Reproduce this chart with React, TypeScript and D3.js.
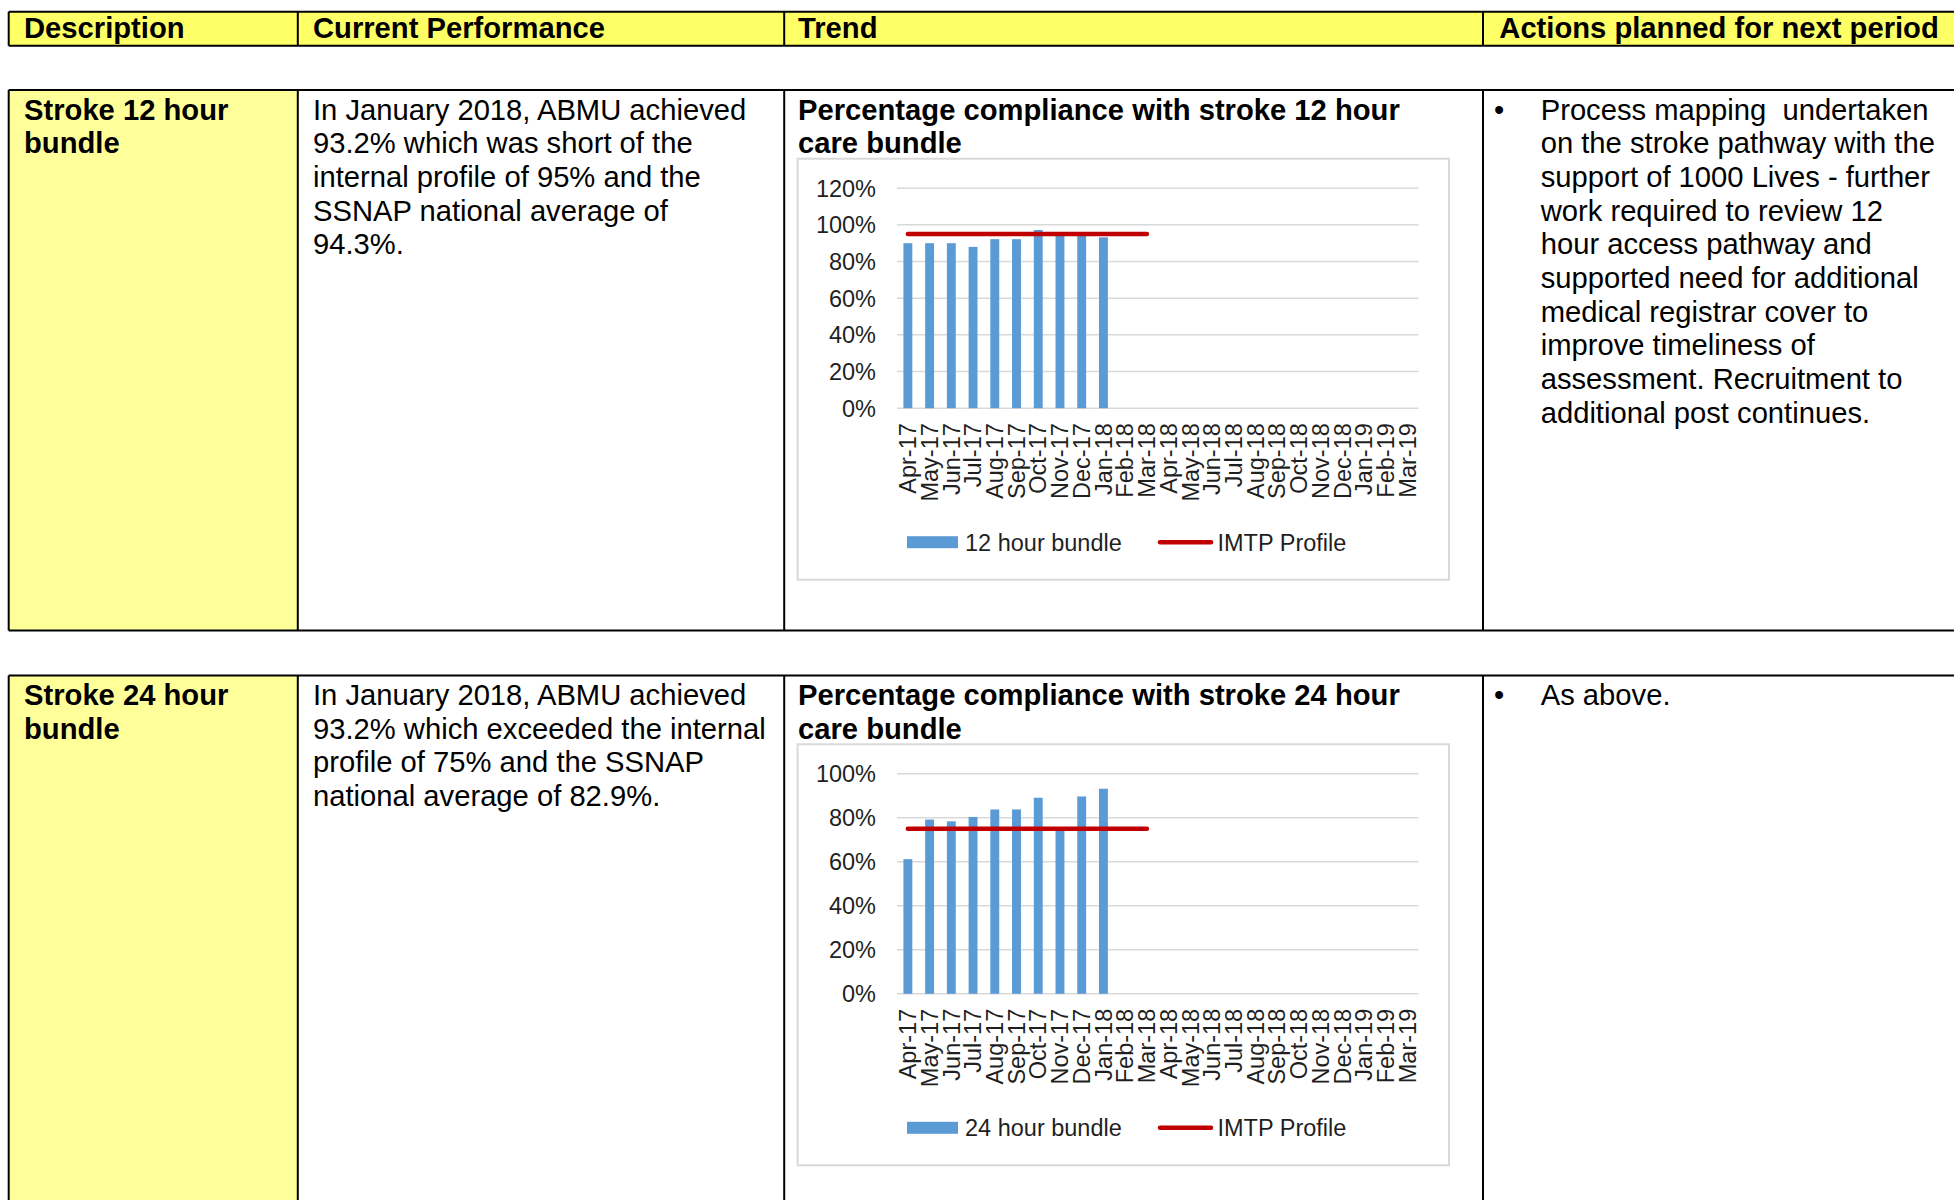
import React from "react";
import * as d3 from "d3";

const months = [
  "Apr-17", "May-17", "Jun-17", "Jul-17", "Aug-17", "Sep-17", "Oct-17", "Nov-17",
  "Dec-17", "Jan-18", "Feb-18", "Mar-18", "Apr-18", "May-18", "Jun-18", "Jul-18",
  "Aug-18", "Sep-18", "Oct-18", "Nov-18", "Dec-18", "Jan-19", "Feb-19", "Mar-19",
];
const bundle12 = [90, 90, 90, 88, 92.2, 92.2, 97.2, 95, 94.3, 93.2];
const bundle24 = [61.2, 79.2, 78.4, 80.4, 83.8, 83.8, 89.1, 74, 89.7, 93.2];
const profile12 = [95, 95, 95, 95, 95, 95, 95, 95, 95, 95, 95, 95];
const profile24 = [75, 75, 75, 75, 75, 75, 75, 75, 75, 75, 75, 75];
const ticks12 = [0, 20, 40, 60, 80, 100, 120];
const ticks24 = [0, 20, 40, 60, 80, 100];

const headers = ["Description", "Current Performance", "Trend", "Actions planned for next period"];
const desc1 = ["Stroke 12 hour", "bundle"];
const desc2 = ["Stroke 24 hour", "bundle"];
const perf1 = [
  "In January 2018, ABMU achieved",
  "93.2% which was short of the",
  "internal profile of 95% and the",
  "SSNAP national average of",
  "94.3%.",
];
const perf2 = [
  "In January 2018, ABMU achieved",
  "93.2% which exceeded the internal",
  "profile of 75% and the SSNAP",
  "national average of 82.9%.",
];
const title1 = ["Percentage compliance with stroke 12 hour", "care bundle"];
const title2 = ["Percentage compliance with stroke 24 hour", "care bundle"];
const actions1 = [
  "Process mapping  undertaken",
  "on the stroke pathway with the",
  "support of 1000 Lives - further",
  "work required to review 12",
  "hour access pathway and",
  "supported need for additional",
  "medical registrar cover to",
  "improve timeliness of",
  "assessment. Recruitment to",
  "additional post continues.",
];
const actions2 = ["As above."];

const FONT = "'Liberation Sans', Arial, Helvetica, sans-serif";
const FS = 29.2;
const LH = 33.7;

const COL = [8.7, 297.8, 784.2, 1483];
const BAR = "#5B9BD5";
const RED = "#C00000";
const AXTXT = "#1F1F1F";

function Lines({ x, y, lines, bold = false }: { x: number; y: number; lines: string[]; bold?: boolean }) {
  return (
    <g>
      {lines.map((t, i) => (
        <text
          key={i}
          x={x}
          y={y + i * LH}
          fontFamily={FONT}
          fontSize={FS}
          fontWeight={bold ? "bold" : "normal"}
          fill="#000"
          style={{ whiteSpace: "pre" }}
        >
          {t}
        </text>
      ))}
    </g>
  );
}

function Chart({
  top,
  values,
  profile,
  ticks,
  ymax,
  label,
}: {
  top: number;
  values: number[];
  profile: number[];
  ticks: number[];
  ymax: number;
  label: string;
}) {
  const boxL = 797.6;
  const boxR = 1449;
  const boxT = top;
  const boxB = top + 421;
  const plotL = 897;
  const plotR = 1418.5;
  const plotT = top + 29.5;
  const plotB = top + 249.5;
  const x = d3.scaleBand<string>().domain(months).range([plotL, plotR]).paddingInner(0.59).paddingOuter(0.295);
  const y = d3.scaleLinear().domain([0, ymax]).range([plotB, plotT]);
  const cx = (m: string) => (x(m) as number) + x.bandwidth() / 2;
  const line = d3
    .line<number>()
    .x((_, i) => cx(months[i]))
    .y((d) => y(d));
  const legY = top + 383.5;
  const axFS = 23.5;
  return (
    <g>
      <rect x={boxL} y={boxT} width={boxR - boxL} height={boxB - boxT} fill="#fff" stroke="#D9D9D9" strokeWidth={2} />
      {ticks.map((t) => (
        <g key={t}>
          <line x1={plotL} x2={plotR} y1={y(t)} y2={y(t)} stroke="#D9D9D9" strokeWidth={1.5} />
          <text
            x={876}
            y={y(t)}
            dy="0.36em"
            textAnchor="end"
            fontFamily={FONT}
            fontSize={axFS}
            fill={AXTXT}
          >
            {t}%
          </text>
        </g>
      ))}
      {values.map((v, i) => (
        <rect key={i} x={x(months[i])} y={y(v)} width={x.bandwidth()} height={y(0) - y(v)} fill={BAR} />
      ))}
      <path d={line(profile) || ""} fill="none" stroke={RED} strokeWidth={4.5} strokeLinecap="round" />
      {months.map((m) => (
        <text
          key={m}
          transform={`translate(${cx(m)},${plotB + 15}) rotate(-90)`}
          dy="0.35em"
          textAnchor="end"
          fontFamily={FONT}
          fontSize={axFS}
          fill={AXTXT}
        >
          {m}
        </text>
      ))}
      <rect x={907} y={legY - 6} width={51} height={12} fill={BAR} />
      <text x={965} y={legY} dy="0.36em" fontFamily={FONT} fontSize={axFS} fill={AXTXT}>
        {label}
      </text>
      <line x1={1160} x2={1211} y1={legY} y2={legY} stroke={RED} strokeWidth={4.5} strokeLinecap="round" />
      <text x={1217.5} y={legY} dy="0.36em" fontFamily={FONT} fontSize={axFS} fill={AXTXT}>
        IMTP Profile
      </text>
    </g>
  );
}

function Row({
  top,
  bottom,
  desc,
  perf,
  title,
  actions,
  chart,
}: {
  top: number;
  bottom: number;
  desc: string[];
  perf: string[];
  title: string[];
  actions: string[];
  chart: React.ReactNode;
}) {
  const base = top + 29.5;
  return (
    <g>
      <rect x={COL[0]} y={top} width={COL[1] - COL[0]} height={bottom - top} fill="#FFFF99" />
      <Lines x={24} y={base} lines={desc} bold />
      <Lines x={313} y={base} lines={perf} />
      <Lines x={798} y={base} lines={title} bold />
      {chart}
      <text x={1494} y={base} fontFamily={FONT} fontSize={FS} fill="#000">
        •
      </text>
      <Lines x={1540.7} y={base} lines={actions} />
      <line x1={COL[0]} x2={2000} y1={top} y2={top} stroke="#000" strokeWidth={2} />
      <line x1={COL[0]} x2={2000} y1={bottom} y2={bottom} stroke="#000" strokeWidth={2} />
      {COL.map((c) => (
        <line key={c} x1={c} x2={c} y1={top} y2={bottom} stroke="#000" strokeWidth={2} />
      ))}
    </g>
  );
}

export default function App() {
  const hx = [24, 313, 798, 1499.3];
  return (
    <svg
      width={1954}
      height={1200}
      viewBox="0 0 1954 1200"
      style={{ position: "absolute", left: 0, top: 0, background: "#fff" }}
    >
      <rect x={0} y={0} width={1954} height={1200} fill="#fff" />
      <rect x={COL[0]} y={11.7} width={2000} height={34} fill="#FFFF66" />
      {headers.map((h, i) => (
        <text key={h} x={hx[i]} y={37.5} fontFamily={FONT} fontSize={FS} fontWeight="bold" fill="#000">
          {h}
        </text>
      ))}
      <line x1={COL[0]} x2={2000} y1={11.7} y2={11.7} stroke="#000" strokeWidth={2} />
      <line x1={COL[0]} x2={2000} y1={45.7} y2={45.7} stroke="#000" strokeWidth={2} />
      {COL.map((c) => (
        <line key={c} x1={c} x2={c} y1={11.7} y2={45.7} stroke="#000" strokeWidth={2} />
      ))}
      <Row
        top={90}
        bottom={630.6}
        desc={desc1}
        perf={perf1}
        title={title1}
        actions={actions1}
        chart={<Chart top={158.7} values={bundle12} profile={profile12} ticks={ticks12} ymax={120} label="12 hour bundle" />}
      />
      <Row
        top={675.4}
        bottom={1230}
        desc={desc2}
        perf={perf2}
        title={title2}
        actions={actions2}
        chart={<Chart top={744.3} values={bundle24} profile={profile24} ticks={ticks24} ymax={100} label="24 hour bundle" />}
      />
    </svg>
  );
}
